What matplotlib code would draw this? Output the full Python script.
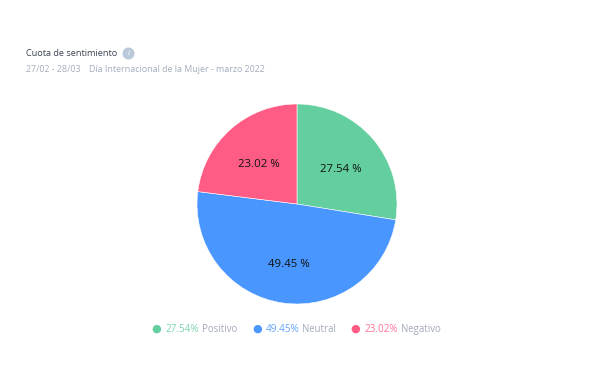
import matplotlib
matplotlib.use("Agg")
import matplotlib.pyplot as plt

labels = ["Positivo", "Neutral", "Negativo"]
shares = [27.54, 49.45, 23.02]
colors = ["#64CF9E", "#4A96FF", "#FF5C85"]

plt.rcParams["font.family"] = ["Open Sans", "DejaVu Sans"]

fig = plt.figure(figsize=(5.92, 3.70), dpi=100)
ax = fig.add_axes([197 / 592, 1 - 304 / 370, 200 / 592, 200 / 370])
wedges, texts = ax.pie(shares, colors=colors, startangle=90, counterclock=False, radius=1,
       wedgeprops={"edgecolor": "white", "linewidth": 0.4},
       labels=[f"{s:.2f} %" for s in shares], labeldistance=0.58,
       textprops={"ha": "center", "va": "center", "fontsize": 8.2, "color": "#111111"})
# etiquetas un poco mas abajo
for t in texts:
    x, y = t.get_position()
    t.set_position((x, y - 0.035))
ax.set_xlim(-1, 1)
ax.set_ylim(-1, 1)

fig.text(26 / 592, 1 - 53 / 370, "Cuota de sentimiento", fontsize=6.6, color="#3a4350", va="center")
fig.text(26 / 592, 1 - 70 / 370, "27/02 - 28/03", fontsize=6.4, color="#a3aebd", va="center")
fig.text(89 / 592, 1 - 70 / 370, "Día Internacional de la Mujer - marzo 2022", fontsize=6.4, color="#a3aebd", va="center")

# icono de info
fig.text(128.5 / 592, 1 - 53.5 / 370, "i", fontsize=6, color="white", ha="center", va="center", style="italic",
         bbox={"boxstyle": "circle,pad=0.3", "fc": "#b9c9d9", "ec": "none"})

# leyenda
legend_dots = [156, 257, 355]
legend_text = [166, 266, 365]
for i in range(3):
    fig.text(legend_dots[i] / 592, 1 - 329 / 370, "●", fontsize=8, color=colors[i], ha="center", va="center", family="DejaVu Sans")
    t = fig.text(legend_text[i] / 592, 1 - 332 / 370, f"{shares[i]:.2f}%", fontsize=7.2, color=colors[i], va="baseline", alpha=0.85)
    fig.canvas.draw()
    bb = t.get_window_extent()
    fig.text((bb.x1 + 2.5) / 592, 1 - 332 / 370, labels[i], fontsize=6.9, color="#a3aaba", va="baseline")

fig.savefig("out.png", dpi=100)
